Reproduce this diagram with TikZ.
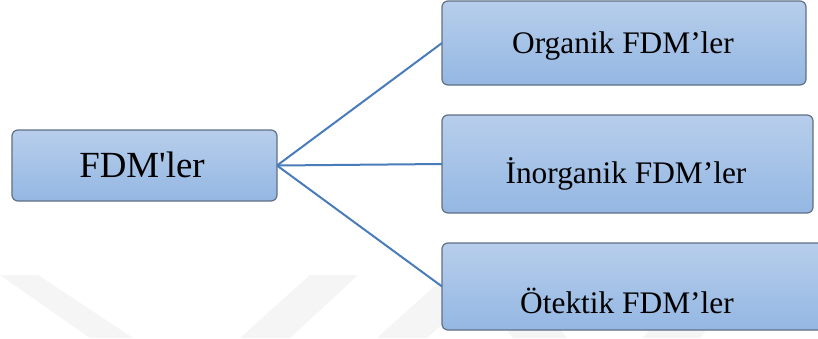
\documentclass[tikz,border=0pt]{standalone}
\usepackage{fontspec}
\setmainfont{Liberation Serif}[Ligatures=TeXOff]
\definecolor{boxtop}{RGB}{183,206,235}
\definecolor{boxbot}{RGB}{148,183,227}
\definecolor{boxline}{RGB}{96,112,134}
\definecolor{conn}{RGB}{72,124,186}
\definecolor{wmark}{RGB}{245,245,245}
\tikzset{
  fdmbox/.style={rectangle, rounded corners=6bp, draw=boxline, line width=1.2bp,
    top color=boxtop, bottom color=boxbot, inner sep=0pt, outer sep=0pt},
  conline/.style={draw=conn, line width=2bp},
  bigtxt/.style={font=\fontsize{37}{44}\selectfont, anchor=base, inner sep=0pt},
  smalltxt/.style={font=\fontsize{31.5}{37}\selectfont, anchor=base, inner sep=0pt},
  wm/.style={fill=wmark, draw=none}
}
\begin{document}
\begin{tikzpicture}[x=1bp, y=-1bp]
\path[use as bounding box, clip] (0,0) rectangle (818,338);
\fill[white] (0,0) rectangle (818,338);
% faint watermark bands
\path[wm] (0,275) -- (38,275) -- (133,338) -- (90,338) -- cycle;
\path[wm] (310,275) -- (358,275) -- (290,338) -- (240,338) -- cycle;
\path[wm] (447,275) -- (497,275) -- (427,338) -- (377,338) -- cycle;
\path[wm] (483,300) -- (537,300) -- (567,338) -- (513,338) -- cycle;
\path[wm] (673,300) -- (730,300) -- (700,338) -- (643,338) -- cycle;
% boxes
\node[fdmbox, minimum width=265bp, minimum height=71bp] (root) at (144.5,165.5) {};
\node[fdmbox, minimum width=364bp, minimum height=84bp] (org) at (624,43) {};
\node[fdmbox, minimum width=371bp, minimum height=98bp] (inorg) at (627.5,164) {};
\node[fdmbox, minimum width=384bp, minimum height=87bp] (otek) at (634,286.5) {};
% connectors
\draw[conline] (root.east) -- (org.west);
\draw[conline] (root.east) -- (inorg.west);
\draw[conline] (root.east) -- (otek.west);
% texts
\node[bigtxt] (troot) at (142,177) {FDM'ler};
\node[smalltxt] (torg) at (623,53) {Organik FDM’ler};
\node[smalltxt] (tinorg) at (626,183) {İnorganik FDM’ler};
\node[smalltxt] (totek) at (627,313) {Ötektik FDM’ler};
\end{tikzpicture}
\end{document}
